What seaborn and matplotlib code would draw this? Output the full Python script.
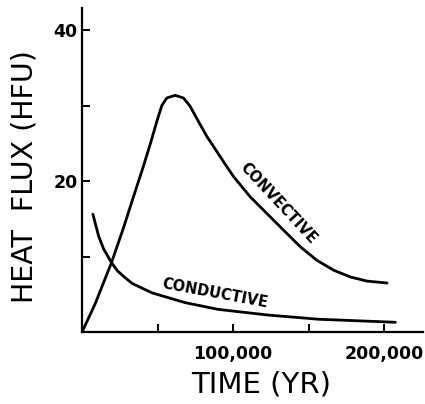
import matplotlib
matplotlib.use("Agg")
import matplotlib.pyplot as plt
import seaborn as sns
import pandas as pd

# Convective heat flux (HFU) against time (years)
conv_time = [0, 8800, 19500, 27600, 35300, 40200, 45000, 49500, 52800, 56100,
             61600, 67100, 71500, 77000, 82600, 89200, 95800, 100200,
             111300, 122300, 133300, 144400, 155400, 166400, 177500,
             188500, 201800]
conv_flux = [0, 3.8, 9.2, 13.9, 18.7, 21.7, 24.8, 27.9, 30.0, 31.0,
             31.35, 31.0, 29.9, 27.9, 25.9, 23.9, 21.9, 20.6,
             17.9, 15.7, 13.5, 11.3, 9.5, 8.2, 7.3,
             6.75, 6.5]

# Conductive heat flux (HFU) against time (years)
cond_time = [7200, 11000, 14300, 19500, 23500, 28500, 33100, 46200, 68200,
             90300, 123400, 156500, 207300]
cond_flux = [15.6, 12.7, 11.0, 9.2, 8.1, 7.2, 6.45, 5.2, 3.9,
             3.0, 2.25, 1.7, 1.3]

x_ticks = [50000, 100000, 150000, 200000]
x_tick_labels = ["", "100,000", "", "200,000"]
y_ticks = [10, 20, 30, 40]
y_tick_labels = ["", "20", "", "40"]

sns.set_theme(style="white")
plt.rcParams["font.family"] = ["DejaVu Sans"]
plt.rcParams["text.color"] = "black"
plt.rcParams["axes.labelcolor"] = "black"

conv = pd.DataFrame({"time": conv_time, "flux": conv_flux})
cond = pd.DataFrame({"time": cond_time, "flux": cond_flux})

fig = plt.figure(figsize=(4.25, 4.04), dpi=100)
ax = fig.add_axes([0.193, 0.178, 0.802, 0.802])

line_kw = dict(color="black", lw=2.0, sort=False, estimator=None,
               solid_joinstyle="round", solid_capstyle="round")
sns.lineplot(data=conv, x="time", y="flux", ax=ax, **line_kw)
sns.lineplot(data=cond, x="time", y="flux", ax=ax, **line_kw)

ax.set_xlim(0, 225500)
ax.set_ylim(0, 42.9)

for side in ("top", "right"):
    ax.spines[side].set_visible(False)
for side in ("left", "bottom"):
    ax.spines[side].set_color("black")
    ax.spines[side].set_linewidth(1.6)

ax.set_xticks(x_ticks)
ax.set_xticklabels(x_tick_labels, fontsize=12.5, fontweight="bold")
ax.set_yticks(y_ticks)
ax.set_yticklabels(y_tick_labels, fontsize=12.5, fontweight="bold")
ax.tick_params(axis="both", direction="in", length=6, width=1.4,
               colors="black", bottom=True, left=True)
ax.tick_params(axis="x", pad=9)
ax.tick_params(axis="y", pad=3)

ax.set_xlabel("TIME (YR)", fontsize=21)
ax.set_ylabel("HEAT  FLUX (HFU)", fontsize=20.5)
ax.xaxis.set_label_coords(0.524, -0.12)
ax.yaxis.set_label_coords(-0.128, 0.48)

ax.text(129500, 17.0, "CONVECTIVE", rotation=-47, fontsize=10.5,
        fontweight="bold", ha="center", va="center", rotation_mode="anchor")
ax.text(88000, 5.1, "CONDUCTIVE", rotation=-10.5, fontsize=10.5,
        fontweight="bold", ha="center", va="center", rotation_mode="anchor")

fig.savefig("out.png", dpi=100, facecolor="white")
